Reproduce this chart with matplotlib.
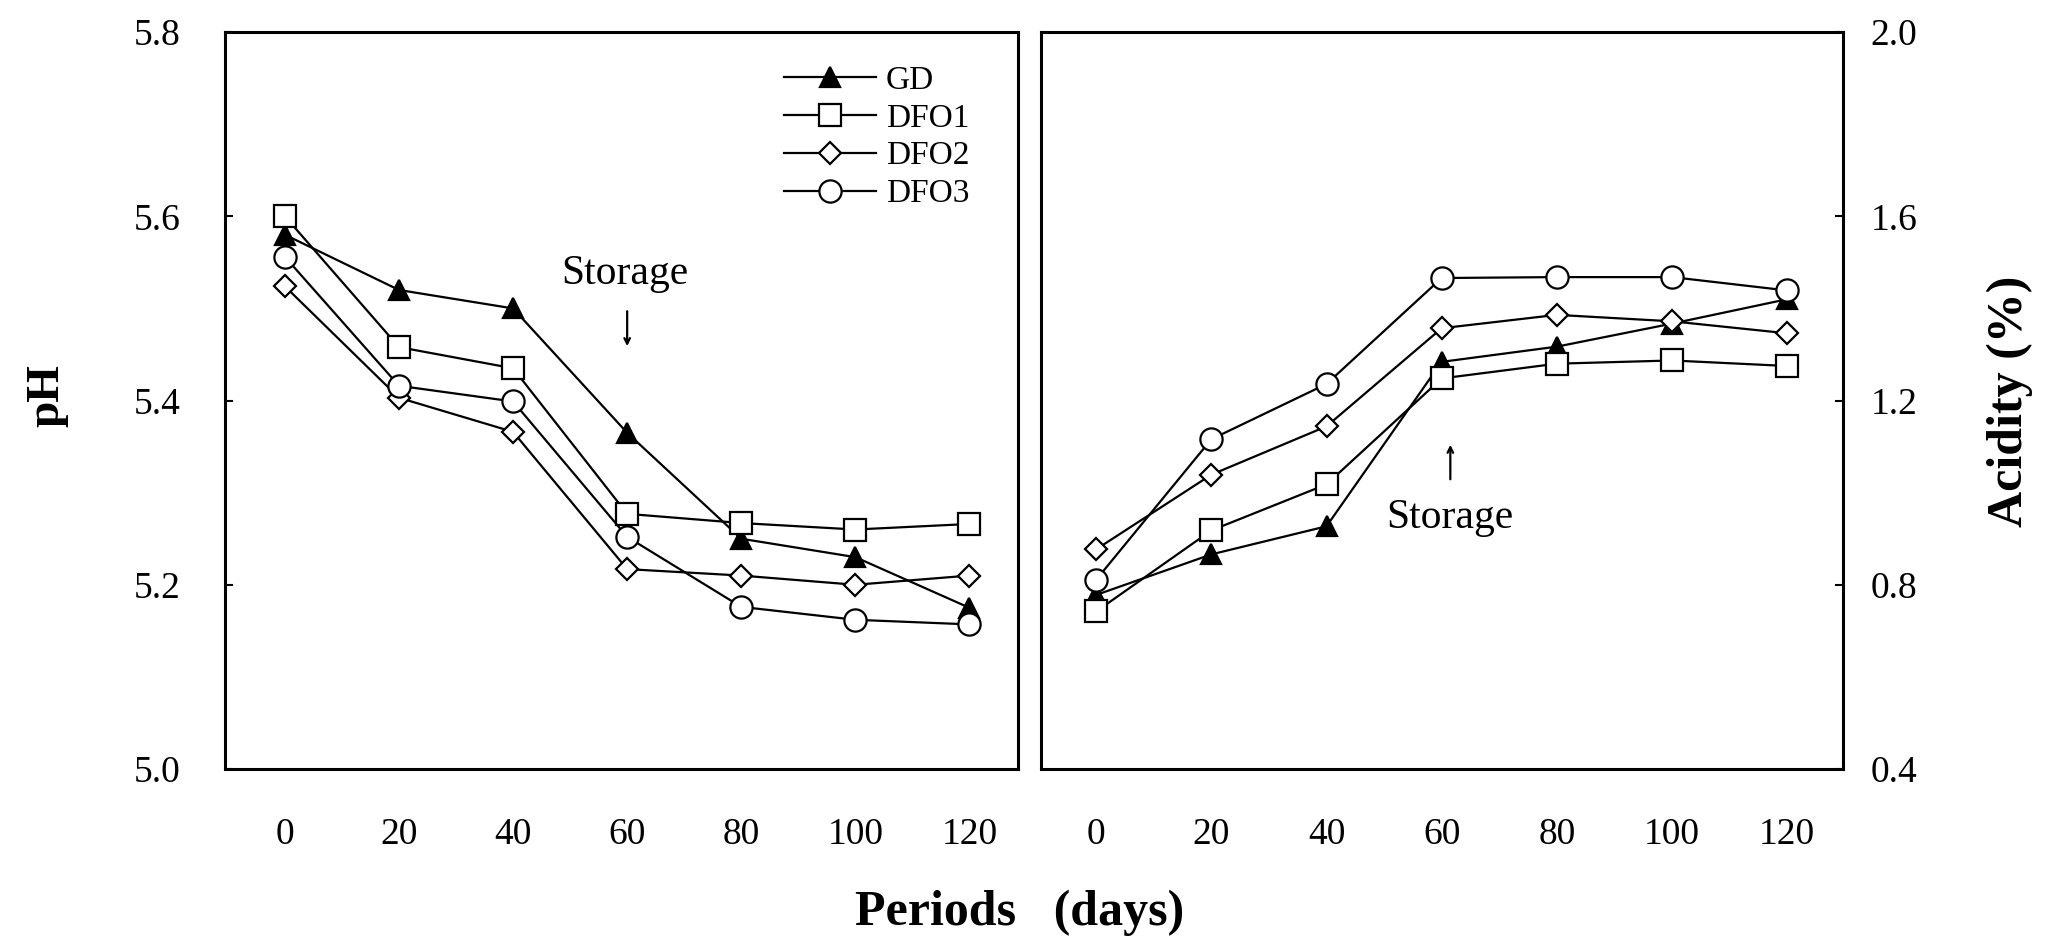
import matplotlib
matplotlib.use("Agg")
import matplotlib.pyplot as plt

plt.rcParams["font.family"] = ["Liberation Serif", "DejaVu Serif"]

days = [0, 20, 40, 60, 80, 100, 120]

# pH (left panel)
ph_gd = [5.58, 5.52, 5.50, 5.365, 5.25, 5.23, 5.175]
ph_dfo1 = [5.60, 5.458, 5.435, 5.277, 5.267, 5.26, 5.266]
ph_dfo2 = [5.524, 5.403, 5.366, 5.217, 5.21, 5.20, 5.21]
ph_dfo3 = [5.556, 5.416, 5.399, 5.252, 5.176, 5.162, 5.157]

# acidity % (right panel)
ac_gd = [0.778, 0.866, 0.927, 1.284, 1.317, 1.367, 1.42]
ac_dfo1 = [0.742, 0.918, 1.018, 1.248, 1.28, 1.287, 1.275]
ac_dfo2 = [0.877, 1.039, 1.144, 1.357, 1.386, 1.372, 1.346]
ac_dfo3 = [0.811, 1.116, 1.236, 1.466, 1.468, 1.468, 1.439]

labels = ["GD", "DFO1", "DFO2", "DFO3"]
ph_ticks = [5.0, 5.2, 5.4, 5.6, 5.8]
ac_ticks = [0.4, 0.8, 1.2, 1.6, 2.0]

styles = [
    dict(marker="^", ms=15, mfc="black", mec="black"),
    dict(marker="s", ms=16, mfc="white", mec="black"),
    dict(marker="D", ms=11, mfc="white", mec="black"),
    dict(marker="o", ms=16, mfc="white", mec="black"),
]

fig = plt.figure(figsize=(20.51, 9.43), dpi=100)
ax1 = fig.add_axes([0.1097, 0.1845, 0.3866, 0.7815])
ax2 = fig.add_axes([0.5078, 0.1845, 0.3908, 0.7815])

for ys, lab, st in zip([ph_gd, ph_dfo1, ph_dfo2, ph_dfo3], labels, styles):
    ax1.plot(days, ys, color="black", lw=1.6, mew=1.6, label=lab, **st)
for ys, st in zip([ac_gd, ac_dfo1, ac_dfo2, ac_dfo3], styles):
    ax2.plot(days, ys, color="black", lw=1.6, mew=1.6, **st)

ax1.set_xlim(-10.5, 128.5)
ax1.set_ylim(5.0, 5.8)
ax1.set_yticks(ph_ticks)
ax1.set_yticklabels([f"{v:.1f}" for v in ph_ticks])
ax2.set_xlim(-9.5, 129.7)
ax2.set_ylim(0.4, 2.0)
ax2.set_yticks(ac_ticks)
ax2.set_yticklabels([f"{v:.1f}" for v in ac_ticks])
ax2.yaxis.tick_right()

for ax in (ax1, ax2):
    ax.set_xticks(days)
    ax.tick_params(axis="x", length=0, pad=35, labelsize=27)
    ax.tick_params(axis="y", direction="in", length=6, width=1.5, labelsize=27)
    for sp in ax.spines.values():
        sp.set_linewidth(2.2)
ax1.tick_params(axis="y", pad=32)
ax2.tick_params(axis="y", pad=20)

fig.text(0.0232, 0.58, "pH", fontsize=34, fontweight="bold", rotation=90, ha="center", va="center")
fig.text(0.98, 0.574, "Acidity (%)", fontsize=36, fontweight="bold", rotation=90, ha="center", va="center")
fig.text(0.4973, 0.032, "Periods   (days)", fontsize=36, fontweight="bold", ha="center", va="center")

# storage markers
ax1.text(59.6, 5.538, "Storage", fontsize=30, ha="center", va="center")
ax1.annotate("", xy=(60, 5.456), xytext=(60, 5.50),
             arrowprops=dict(arrowstyle="->", lw=1.6, color="black"))
ax2.text(61.5, 0.945, "Storage", fontsize=30, ha="center", va="center")
ax2.annotate("", xy=(61.5, 1.11), xytext=(61.5, 1.023),
             arrowprops=dict(arrowstyle="->", lw=1.6, color="black"))

ax1.legend(loc="upper left", bbox_to_anchor=(0.705, 0.955), frameon=False, fontsize=24,
           handlelength=2.76, handletextpad=0.3, labelspacing=0.22, borderpad=0, borderaxespad=0)

fig.savefig("out.png", dpi=100)
